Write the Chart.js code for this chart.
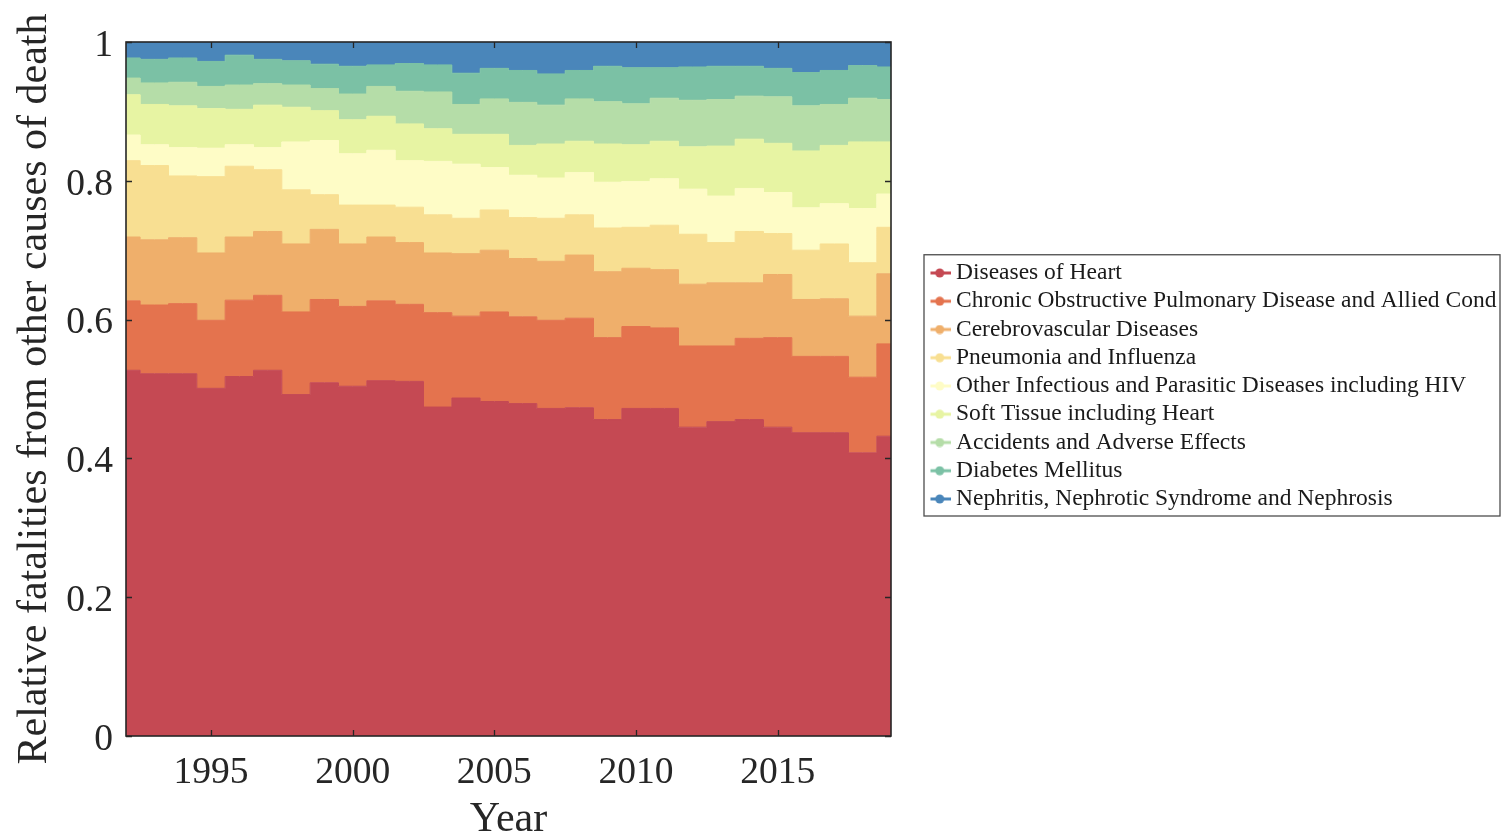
<!DOCTYPE html>
<html>
<head>
<meta charset="utf-8">
<title>Relative fatalities from other causes of death</title>
<script src="https://cdn.jsdelivr.net/npm/chart.js@4.4.1/dist/chart.umd.min.js"></script>
<style>
  html, body { margin: 0; padding: 0; background: #ffffff; }
  canvas { display: block; }
</style>
</head>
<body>
<canvas id="chart" width="1505" height="840"></canvas>
<script>
// ---- data: share of deaths per cause and year (each year sums to 1) ----
const years = [1992, 1993, 1994, 1995, 1996, 1997, 1998, 1999, 2000, 2001,
               2002, 2003, 2004, 2005, 2006, 2007, 2008, 2009, 2010, 2011,
               2012, 2013, 2014, 2015, 2016, 2017, 2018, 2019];

const heart      = [0.527, 0.522, 0.522, 0.501, 0.518, 0.527, 0.492, 0.509, 0.504, 0.512,
                    0.511, 0.474, 0.487, 0.482, 0.479, 0.472, 0.473, 0.456, 0.472, 0.472,
                    0.445, 0.453, 0.456, 0.445, 0.437, 0.437, 0.408, 0.432];
const copd       = [0.100, 0.099, 0.101, 0.098, 0.110, 0.108, 0.119, 0.120, 0.115, 0.115,
                    0.111, 0.136, 0.118, 0.129, 0.125, 0.127, 0.129, 0.118, 0.118, 0.116,
                    0.117, 0.109, 0.117, 0.129, 0.110, 0.110, 0.109, 0.133];
const cerebro    = [0.092, 0.094, 0.095, 0.097, 0.091, 0.092, 0.098, 0.101, 0.090, 0.092,
                    0.089, 0.086, 0.090, 0.089, 0.084, 0.085, 0.091, 0.095, 0.084, 0.084,
                    0.089, 0.091, 0.080, 0.091, 0.082, 0.083, 0.088, 0.101];
const pneumonia  = [0.110, 0.107, 0.089, 0.110, 0.102, 0.089, 0.078, 0.050, 0.056, 0.046,
                    0.051, 0.055, 0.051, 0.058, 0.059, 0.062, 0.058, 0.063, 0.059, 0.064,
                    0.072, 0.058, 0.074, 0.059, 0.071, 0.079, 0.077, 0.067];
const infectious = [0.037, 0.030, 0.041, 0.041, 0.031, 0.032, 0.069, 0.078, 0.074, 0.079,
                    0.067, 0.077, 0.078, 0.061, 0.061, 0.058, 0.061, 0.066, 0.066, 0.067,
                    0.065, 0.067, 0.062, 0.059, 0.061, 0.058, 0.078, 0.048];
const softTissue = [0.058, 0.058, 0.060, 0.057, 0.051, 0.061, 0.050, 0.043, 0.049, 0.049,
                    0.053, 0.047, 0.043, 0.048, 0.043, 0.049, 0.045, 0.055, 0.053, 0.054,
                    0.061, 0.072, 0.071, 0.071, 0.082, 0.084, 0.096, 0.075];
const accidents  = [0.024, 0.031, 0.034, 0.032, 0.035, 0.031, 0.032, 0.032, 0.037, 0.043,
                    0.047, 0.053, 0.043, 0.051, 0.062, 0.056, 0.061, 0.061, 0.059, 0.062,
                    0.067, 0.067, 0.062, 0.067, 0.065, 0.059, 0.063, 0.061];
const diabetes   = [0.029, 0.034, 0.035, 0.036, 0.043, 0.035, 0.035, 0.035, 0.040, 0.031,
                    0.040, 0.039, 0.045, 0.044, 0.046, 0.045, 0.041, 0.051, 0.052, 0.044,
                    0.048, 0.048, 0.043, 0.041, 0.048, 0.049, 0.047, 0.047];
const nephritis  = [0.023, 0.025, 0.023, 0.028, 0.019, 0.025, 0.027, 0.032, 0.035, 0.033,
                    0.031, 0.033, 0.045, 0.038, 0.041, 0.046, 0.041, 0.035, 0.037, 0.037,
                    0.036, 0.035, 0.035, 0.038, 0.044, 0.041, 0.034, 0.036];

const seriesNames = [
  'Diseases of Heart',
  'Chronic Obstructive Pulmonary Disease and Allied Cond',
  'Cerebrovascular Diseases',
  'Pneumonia and Influenza',
  'Other Infectious and Parasitic Diseases including HIV',
  'Soft Tissue including Heart',
  'Accidents and Adverse Effects',
  'Diabetes Mellitus',
  'Nephritis, Nephrotic Syndrome and Nephrosis'
];
const seriesColors = ['#C54953', '#E4734E', '#EFAF6B', '#F8DF92', '#FEFCC6',
                      '#E7F4A3', '#B5DDA8', '#7BC1A5', '#4A86BA'];

const yearTicks = [1995, 2000, 2005, 2010, 2015];
const fractionTicks = [0, 0.2, 0.4, 0.6, 0.8, 1];

// ---- styling ----
const SERIF = '"Liberation Serif", "Times New Roman", Times, serif';
const AXIS_COLOR = '#262626';
const TICK_LEN = 6;
const TICK_FONT = 37.5;
const TITLE_FONT = 42;
const LEGEND_FONT = 23.5;
const LEGEND_PAD = 4.75;
const LEGEND_WIDTH = 614;   // space reserved right of the plot box
const LEGEND_DX = 39.5;     // gap between plot box and legend entries
const LEGEND_DY = -55;      // lift the legend block above centre

// small "line with marker" glyph for each legend entry
function makeLegendIcon(color) {
  const c = document.createElement('canvas');
  c.width = 22; c.height = 10;
  const g = c.getContext('2d');
  g.strokeStyle = color; g.lineWidth = 3;
  g.beginPath(); g.moveTo(0, 5); g.lineTo(22, 5); g.stroke();
  g.fillStyle = color;
  g.beginPath(); g.arc(11, 5, 4.5, 0, Math.PI * 2); g.fill();
  return c;
}
const legendIcons = seriesColors.map(makeLegendIcon);

const seriesValues = [heart, copd, cerebro, pneumonia, infectious,
                      softTissue, accidents, diabetes, nephritis];

const datasets = seriesValues.map((vals, i) => ({
  label: seriesNames[i],
  data: years.map((yr, k) => ({ x: yr, y: vals[k] })),
  backgroundColor: seriesColors[i],
  borderColor: seriesColors[i],
  borderWidth: 1,
  fill: i === 0 ? 'origin' : '-1',
  stepped: 'middle',
  pointRadius: 0,
  pointHoverRadius: 0
}));

// plot frame and inward tick marks on all four sides
const frameAndTicks = {
  id: 'frameAndTicks',
  afterDatasetsDraw(chart) {
    const { ctx, chartArea: a, scales: { x, y } } = chart;
    ctx.save();
    ctx.strokeStyle = AXIS_COLOR;
    ctx.lineWidth = 1.3;
    ctx.beginPath();
    yearTicks.forEach(v => {
      const px = Math.round(x.getPixelForValue(v)) + 0.5;
      ctx.moveTo(px, a.top); ctx.lineTo(px, a.top + TICK_LEN);
      ctx.moveTo(px, a.bottom); ctx.lineTo(px, a.bottom - TICK_LEN);
    });
    fractionTicks.forEach(v => {
      const py = Math.round(y.getPixelForValue(v)) + 0.5;
      ctx.moveTo(a.left, py); ctx.lineTo(a.left + TICK_LEN, py);
      ctx.moveTo(a.right, py); ctx.lineTo(a.right - TICK_LEN, py);
    });
    ctx.stroke();
    ctx.lineWidth = 1.6;
    ctx.strokeRect(a.left, a.top, a.right - a.left, a.bottom - a.top);
    ctx.restore();
  }
};

// legend: fixed width block, entries offset from the plot, boxed frame
const legendPlacement = {
  id: 'legendPlacement',
  beforeLayout(chart) {
    const lg = chart.legend;
    if (!lg || lg.__placed) return;
    lg.__placed = true;
    const fit = lg.fit;
    lg.fit = function () {
      fit.call(this);
      this.width = LEGEND_WIDTH;
    };
    const draw = lg.draw;
    lg.draw = function () {
      const n = seriesNames.length;
      const colH = n * (LEGEND_FONT + LEGEND_PAD);
      const blockTop = (this.top + this.bottom + LEGEND_PAD - colH) / 2 + LEGEND_DY;
      const blockLeft = this.left + LEGEND_PAD + LEGEND_DX;
      const ctx = this.ctx;
      ctx.save();
      ctx.fillStyle = '#ffffff';
      ctx.strokeStyle = '#4d4d4d';
      ctx.lineWidth = 1.3;
      const fx = blockLeft - 11.25, fy = blockTop - 6.5;
      const fw = chart.width - 5 - fx, fh = colH - LEGEND_PAD + 11.75;
      ctx.fillRect(fx, fy, fw, fh);
      ctx.strokeRect(fx, fy, fw, fh);
      ctx.restore();
      this.left += LEGEND_DX; this.right += LEGEND_DX;
      this.top += LEGEND_DY; this.bottom += LEGEND_DY;
      draw.call(this);
      this.left -= LEGEND_DX; this.right -= LEGEND_DX;
      this.top -= LEGEND_DY; this.bottom -= LEGEND_DY;
    };
  }
};

new Chart(document.getElementById('chart'), {
  type: 'line',
  data: { datasets },
  options: {
    responsive: false,
    animation: false,
    devicePixelRatio: 1,
    layout: { padding: { top: 42, left: 0, right: 0, bottom: 0 } },
    interaction: { mode: 'nearest', intersect: true },
    plugins: {
      tooltip: { enabled: false },
      legend: {
        display: true,
        position: 'right',
        align: 'center',
        labels: {
          font: { family: SERIF, size: LEGEND_FONT },
          color: '#1a1a1a',
          usePointStyle: true,
          pointStyleWidth: 9,
          padding: LEGEND_PAD,
          generateLabels(chart) {
            const items = Chart.defaults.plugins.legend.labels.generateLabels(chart);
            items.forEach((it, i) => { it.pointStyle = legendIcons[i]; });
            return items;
          }
        }
      }
    },
    scales: {
      x: {
        type: 'linear',
        position: 'bottom',
        min: 1992,
        max: 2019,
        grid: { display: false, drawTicks: false },
        border: { display: false },
        afterBuildTicks(scale) { scale.ticks = yearTicks.map(v => ({ value: v })); },
        afterFit(scale) { scale.height = 104; },
        ticks: {
          autoSkip: false,
          maxRotation: 0,
          padding: 15,
          color: AXIS_COLOR,
          font: { family: SERIF, size: TICK_FONT },
          callback: v => String(v)
        },
        title: {
          display: true,
          text: 'Year',
          color: AXIS_COLOR,
          font: { family: SERIF, size: TITLE_FONT },
          padding: { top: 0, bottom: -5 }
        }
      },
      y: {
        type: 'linear',
        stacked: true,
        min: 0,
        max: 1,
        grid: { display: false, drawTicks: false },
        border: { display: false },
        afterBuildTicks(scale) { scale.ticks = fractionTicks.map(v => ({ value: v })); },
        afterFit(scale) { scale.width = 126; },
        ticks: {
          padding: 13,
          labelOffset: 4,
          color: AXIS_COLOR,
          font: { family: SERIF, size: TICK_FONT },
          callback: v => String(Number(v.toFixed(1)))
        },
        title: {
          display: true,
          text: 'Relative fatalities from other causes of death',
          color: AXIS_COLOR,
          font: { family: SERIF, size: TITLE_FONT },
          padding: { top: 10, bottom: 0 }
        }
      }
    }
  },
  plugins: [legendPlacement, frameAndTicks]
});
</script>
</body>
</html>
